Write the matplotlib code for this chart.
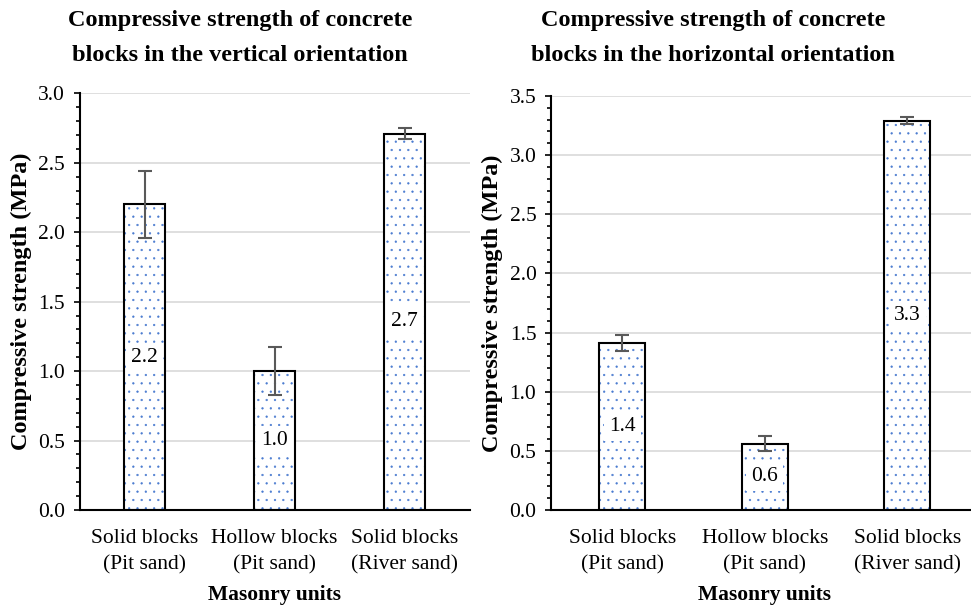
import numpy as np
import matplotlib.pyplot as plt
from matplotlib.ticker import MultipleLocator

plt.rcParams['font.family'] = ['Liberation Serif', 'DejaVu Serif']
plt.rcParams['hatch.linewidth'] = 0.4

# masonry units tested
units = ['Solid blocks\n(Pit sand)', 'Hollow blocks\n(Pit sand)', 'Solid blocks\n(River sand)']

# vertical orientation (MPa)
vert_mean = [2.20, 1.00, 2.71]
vert_err = [0.24, 0.175, 0.04]
vert_lbl = ['2.2', '1.0', '2.7']

# horizontal orientation (MPa)
hor_mean = [1.41, 0.56, 3.29]
hor_err = [0.07, 0.065, 0.03]
hor_lbl = ['1.4', '0.6', '3.3']

dot_blue = '#4a7bd0'
err_grey = '#595959'
grid_grey = '#d9d9d9'


def draw(ax, means, errs, labels, ymax, ylab_x):
    x = np.arange(len(means))
    # dotted fill first, then black outline on top
    ax.bar(x, means, width=0.32, color='white', edgecolor=dot_blue,
           hatch='..', linewidth=0, zorder=2)
    ax.bar(x, means, width=0.32, fill=False, edgecolor='black',
           linewidth=1.5, zorder=3)
    for xi, m, t in zip(x, means, labels):
        ax.text(xi, m / 2, t, ha='center', va='center', fontsize=15.5,
                zorder=4, bbox=dict(facecolor='white', edgecolor='none', pad=3.5))
    ax.errorbar(x, means, yerr=errs, fmt='none', ecolor=err_grey,
                elinewidth=1.5, capsize=5, capthick=1.5, zorder=5)

    ax.set_ylim(0, ymax)
    ax.set_xlim(-0.5, 2.5)
    ax.yaxis.set_major_locator(MultipleLocator(0.5))
    ax.yaxis.set_minor_locator(MultipleLocator(0.1))
    ax.yaxis.set_major_formatter(lambda v, p: f'{v:.1f}')
    ax.grid(axis='y', color=grid_grey, linewidth=1.2, zorder=0)
    ax.set_axisbelow(True)
    for s in ['top', 'right']:
        ax.spines[s].set_visible(False)
    ax.spines['left'].set_linewidth(1.5)
    ax.spines['bottom'].set_linewidth(1.5)
    ax.tick_params(axis='y', which='major', length=4.5, width=1.2, pad=6,
                   labelsize=15.5)
    ax.tick_params(axis='y', which='minor', length=3, width=1.2)
    ax.tick_params(axis='x', length=0, pad=13.5, labelsize=15.5)
    ax.set_xticks(x)
    ax.set_xticklabels(units, linespacing=1.5)
    ax.set_xlabel('Masonry units', fontsize=15.5, fontweight='bold', labelpad=7.5)
    ax.set_ylabel('Compressive strength (MPa)', fontsize=17.5, fontweight='bold')
    ax.yaxis.set_label_coords(ylab_x, 0.5)


fig = plt.figure(figsize=(9.71, 6.07), dpi=100)

ax1 = fig.add_axes([79.5 / 971, 97 / 607, 390 / 971, 416.7 / 607])
draw(ax1, vert_mean, vert_err, vert_lbl, 3.0, -0.122)

ax2 = fig.add_axes([551 / 971, 97 / 607, 427.5 / 971, 414 / 607])
draw(ax2, hor_mean, hor_err, hor_lbl, 3.5, -0.113)

fig.text(240 / 971, 1 - 10 / 607,
         'Compressive strength of concrete\nblocks in the vertical orientation',
         ha='center', va='top', fontsize=17.5, fontweight='bold', linespacing=1.9)
fig.text(713 / 971, 1 - 10 / 607,
         'Compressive strength of concrete\nblocks in the horizontal orientation',
         ha='center', va='top', fontsize=17.5, fontweight='bold', linespacing=1.9)

fig.savefig('out.png', dpi=100)
